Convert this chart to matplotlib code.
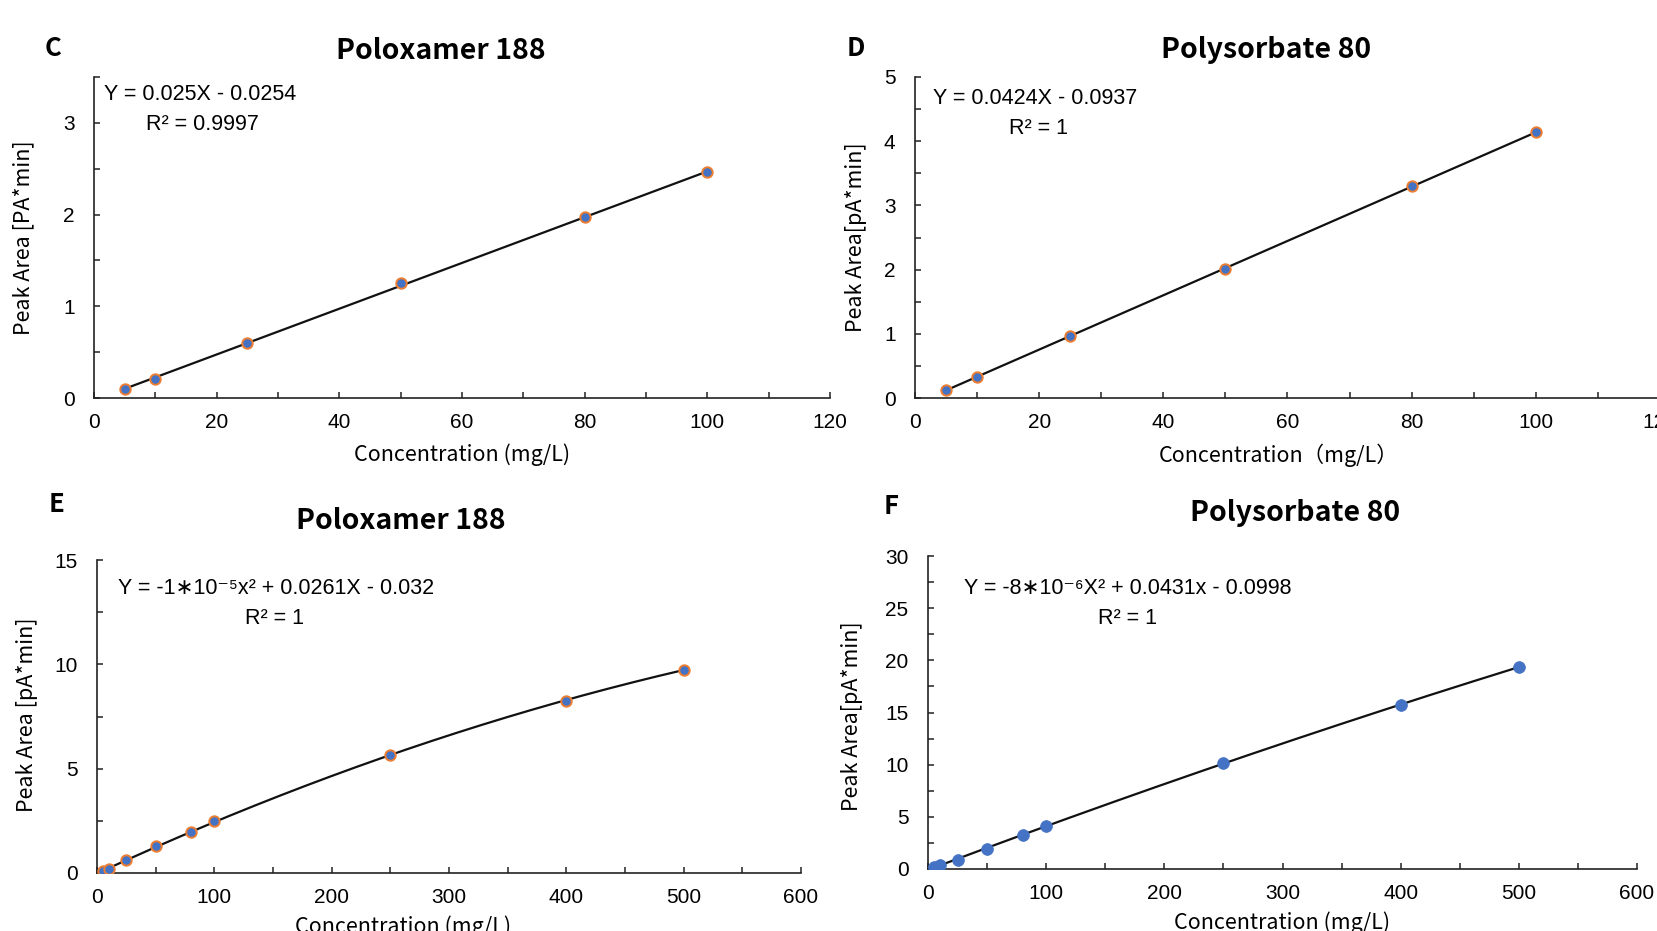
import numpy as np
import matplotlib.pyplot as plt
from matplotlib.ticker import MultipleLocator

# calibration data
conc_low = [5, 10, 25, 50, 80, 100]
conc_high = [5, 10, 25, 50, 80, 100, 250, 400, 500]

p188_low = [0.10, 0.21, 0.60, 1.25, 1.97, 2.46]
ps80_low = [0.13, 0.33, 0.96, 2.01, 3.30, 4.14]
p188_high = [0.10, 0.20, 0.60, 1.27, 1.98, 2.48, 5.64, 8.26, 9.75]
ps80_high = [0.20, 0.40, 0.91, 1.93, 3.24, 4.16, 10.15, 15.74, 19.36]

eq_c = ["Y = 0.025X - 0.0254", "R\u00b2 = 0.9997"]
eq_d = ["Y = 0.0424X - 0.0937", "R\u00b2 = 1"]
eq_e = ["Y = -1\u221710\u207b\u2075x\u00b2 + 0.0261X - 0.032", "R\u00b2 = 1"]
eq_f = ["Y = -8\u221710\u207b\u2076X\u00b2 + 0.0431x - 0.0998", "R\u00b2 = 1"]

W, H = 1658, 931
BLUE = "#4472C4"
ORANGE = "#ED7D31"
CJK = ["Noto Sans CJK SC", "DejaVu Sans"]
ARIAL = ["Liberation Sans", "DejaVu Sans"]

fig = plt.figure(figsize=(W / 100, H / 100), dpi=100)


def px_axes(l, r, t, b):
    return fig.add_axes([l / W, 1 - b / H, (r - l) / W, (b - t) / H])


def ftext(x, y, s, **kw):
    fig.text(x / W, 1 - y / H, s, **kw)


def style(ax, xmax, xmaj, xmin, ymax, ymaj, ymin):
    ax.set_xlim(0, xmax)
    ax.set_ylim(0, ymax)
    ax.xaxis.set_major_locator(MultipleLocator(xmaj))
    ax.xaxis.set_minor_locator(MultipleLocator(xmin))
    ax.yaxis.set_major_locator(MultipleLocator(ymaj))
    ax.yaxis.set_minor_locator(MultipleLocator(ymin))
    for s in ["top", "right"]:
        ax.spines[s].set_visible(False)
    for s in ["left", "bottom"]:
        ax.spines[s].set_linewidth(1.2)
        ax.spines[s].set_color("#222222")
    ax.tick_params(which="both", direction="in", length=4, width=1.1, color="#222222")
    ax.tick_params(axis="x", which="major", pad=11, labelsize=15)
    ax.tick_params(axis="y", which="major", pad=14, labelsize=15)
    for lab in ax.get_xticklabels() + ax.get_yticklabels():
        lab.set_family(ARIAL)


def panel(ax, x, y, deg, edge):
    coef = np.polyfit(x, y, deg)
    xx = np.linspace(min(x), max(x), 300)
    ax.plot(xx, np.polyval(coef, xx), color="#111111", lw=1.6, zorder=2)
    if edge:
        ax.plot(x, y, "o", ms=7.5, mfc=BLUE, mec=ORANGE, mew=1.4, zorder=3)
    else:
        ax.plot(x, y, "o", ms=8.5, mfc=BLUE, mec=BLUE, mew=0.5, zorder=3)


# C
axc = px_axes(94, 830, 77, 398)
panel(axc, conc_low, p188_low, 1, True)
style(axc, 120, 20, 10, 3.5, 1, 0.5)
# D
axd = px_axes(915, 1660, 77, 398)
panel(axd, conc_low, ps80_low, 1, True)
style(axd, 120, 20, 10, 5, 1, 0.5)
# E
axe = px_axes(97, 801, 560, 873)
panel(axe, conc_high, p188_high, 2, True)
style(axe, 600, 100, 50, 15, 5, 2.5)
# F
axf = px_axes(928, 1637, 556, 869)
panel(axf, conc_high, ps80_high, 2, False)
style(axf, 600, 100, 50, 30, 5, 2.5)

# panel letters and titles
for (x, y, s) in [(53, 49, "C"), (856, 48, "D"), (57, 504, "E"), (891, 506, "F")]:
    ftext(x, y, s, family=CJK, fontsize=18.5, fontweight="bold", ha="center", va="center")
for (x, y, s) in [(441, 51, "Poloxamer 188"), (1266, 50, "Polysorbate 80"),
                  (401, 521, "Poloxamer 188"), (1295, 513, "Polysorbate 80")]:
    ftext(x, y, s, family=CJK, fontsize=20.5, fontweight="bold", ha="center", va="center")

# axis labels
for (x, y, s) in [(462, 455, "Concentration (mg/L)"), (1279, 455, "Concentration\uff08mg/L\uff09"),
                  (403, 927, "Concentration (mg/L)"), (1282, 923, "Concentration (mg/L)")]:
    ftext(x, y, s, family=CJK, fontsize=15.5, ha="center", va="center")
for (x, y, s) in [(23, 238, "Peak Area [PA*min]"), (856, 237, "Peak Area[pA*min]"),
                  (27, 715, "Peak Area [pA*min]"), (852, 716, "Peak Area[pA*min]")]:
    ftext(x, y, s, family=CJK, fontsize=15.5, ha="center", va="center", rotation=90)

# equations
for (pos, eq) in [(((104, 94), (146, 124)), eq_c), (((933, 98), (1009, 129)), eq_d),
                  (((118, 588), (245, 618)), eq_e), (((964, 589), (1098, 619)), eq_f)]:
    for (x, y), s in zip(pos, eq):
        ftext(x, y, s, family=ARIAL, fontsize=15.5, ha="left", va="center")

fig.savefig("out.png", dpi=100)
